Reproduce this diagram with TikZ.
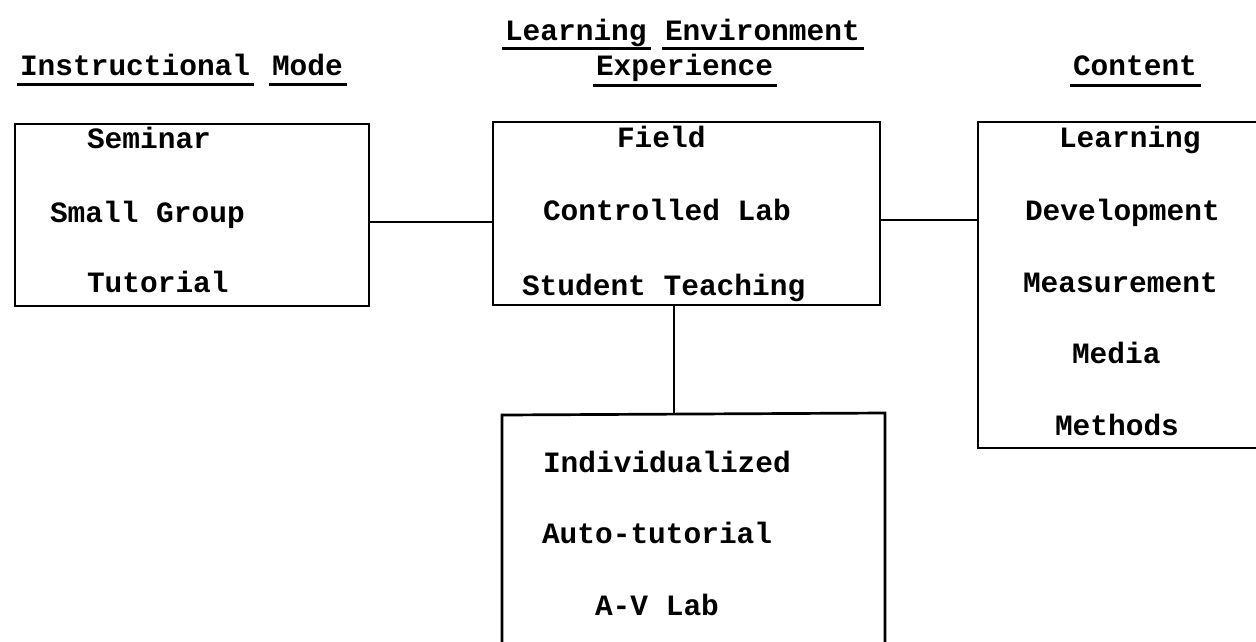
\documentclass[tikz,border=0pt]{standalone}
\usepackage{fontspec}
\setmonofont{Liberation Mono}
\begin{document}
\begin{tikzpicture}[x=1pt,y=-1pt,
  every node/.style={inner sep=0pt,outer sep=0pt},
  lbl/.style={anchor=base west,font=\ttfamily\bfseries\fontsize{29.5}{30}\selectfont},
  frame/.style={line width=2.7pt,line cap=round,line join=miter},
  link/.style={line width=2.4pt},
  uline/.style={line width=3pt}]
\useasboundingbox[fill=white] (0,0) rectangle (1256,641);
% headers
\node[lbl] (h1a) at (20,75) {Instructional};
\node[lbl] (h1b) at (272,75) {Mode};
\node[lbl] (h2a) at (505,40) {Learning};
\node[lbl] (h2b) at (665,40) {Environment};
\node[lbl] (h2c) at (596,75) {Experience};
\node[lbl] (h3a) at (1073,75) {Content};
\foreach \n/\d in {h1a/9,h1b/9,h2a/8,h2b/8,h2c/10,h3a/10}
  \draw[uline] ([xshift=-3pt,yshift=-\d pt]\n.base west) -- ([xshift=4pt,yshift=-\d pt]\n.base east);
% box 1
\node[frame,draw,anchor=north west,minimum width=354pt,minimum height=182pt] (box1) at (15,124) {};
\node[lbl] (t11) at (87,148) {Seminar};
\node[lbl] (t12) at (50,222) {Small Group};
\node[lbl] (t13) at (87,292) {Tutorial};
% box 2
\node[frame,draw,anchor=north west,minimum width=387pt,minimum height=183pt] (box2) at (493,122) {};
\node[lbl] (t21) at (617,147) {Field};
\node[lbl] (t22) at (543,220) {Controlled Lab};
\node[lbl] (t23) at (522,295) {Student Teaching};
% box 3 (open to the right)
\coordinate (b3tl) at (978,122);
\coordinate (b3bl) at (978,448);
\coordinate (b3tr) at (1260,122);
\coordinate (b3br) at (1260,448);
\draw[frame] (b3tr) -- (b3tl) -- (b3bl) -- (b3br);
\node[lbl] (t31) at (1059,147) {Learning};
\node[lbl] (t32) at (1025,220) {Development};
\node[lbl] (t33) at (1023,292) {Measurement};
\node[lbl] (t34) at (1072,363) {Media};
\node[lbl] (t35) at (1055,435) {Methods};
% box 4 (open at the bottom)
\coordinate (b4tl) at (502,415);
\coordinate (b4tr) at (885,413);
\coordinate (b4bl) at (502,645);
\coordinate (b4br) at (885,645);
\draw[frame] (b4bl) -- (b4tl) -- (b4tr) -- (b4br);
\node[lbl] (t41) at (543,472) {Individualized};
\node[lbl] (t42) at (542,543) {Auto-tutorial};
\node[lbl] (t43) at (595,615) {A-V Lab};
% connectors
\coordinate (c1a) at (box1.east |- 0,222);
\coordinate (c1b) at (box2.west |- 0,222);
\draw[link] (c1a) -- (c1b);
\coordinate (c2a) at (box2.east |- 0,220);
\coordinate (c2b) at (b3tl |- 0,220);
\draw[link] (c2a) -- (c2b);
\coordinate (c3a) at (674,305);
\coordinate (c3b) at (674,414);
\draw[link] (box2.south -| c3a) -- (c3b);
\end{tikzpicture}
\end{document}
